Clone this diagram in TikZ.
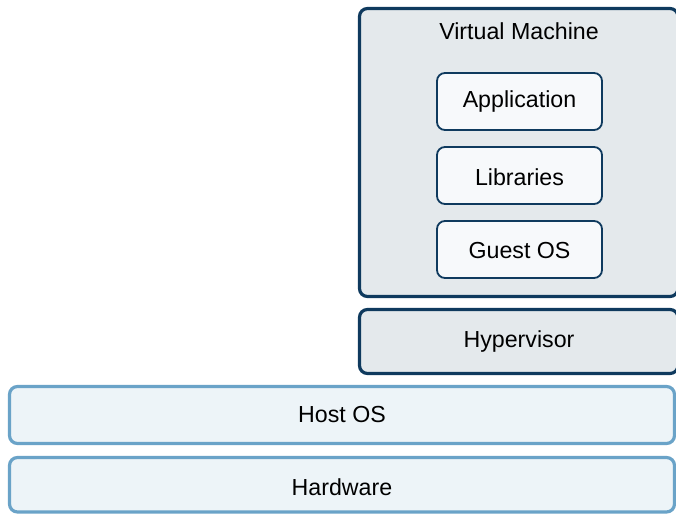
\documentclass[tikz,border=0pt]{standalone}
\usepackage{fontspec}
\setmainfont{Liberation Sans}
\definecolor{navy}{HTML}{0F3A5E}
\definecolor{vmfill}{HTML}{E4E9EC}
\definecolor{innerfill}{HTML}{F7F9FB}
\definecolor{hostline}{HTML}{6AA3C8}
\definecolor{hostfill}{HTML}{EDF4F8}
\tikzset{
  darkbox/.style={draw=navy, line width=3.2pt, fill=vmfill, rounded corners=8pt},
  innerbox/.style={draw=navy, line width=1.8pt, fill=innerfill, rounded corners=8pt},
  lightbox/.style={draw=hostline, line width=3.2pt, fill=hostfill, rounded corners=8pt},
  lbl/.style={font=\fontsize{23.2}{27}\selectfont, text=black}
}
\begin{document}
\begin{tikzpicture}[x=1pt, y=-1pt]
\useasboundingbox (0,0) rectangle (676,514);
\clip (0,0) rectangle (676,514);
% virtual machine frame
\draw[darkbox] (359.5,8.5) rectangle (678,296.5);
\node[lbl] (vm) at (519,31) {Virtual Machine};
% guest stack
\draw[innerbox] (437,73) rectangle (602,130);
\node[lbl] (app) at (519.5,101) {Application};
\draw[innerbox] (437,147) rectangle (602,204);
\node[lbl] (lib) at (519.5,177) {Libraries};
\draw[innerbox] (437,221) rectangle (602,278);
\node[lbl] (gos) at (519.5,251) {Guest OS};
% hypervisor
\draw[darkbox] (359.5,309.5) rectangle (678,373.5);
\node[lbl] (hyp) at (519,341) {Hypervisor};
% host layers
\draw[lightbox] (9.5,386.5) rectangle (674.5,443.5);
\node[lbl] (host) at (342,415) {Host OS};
\draw[lightbox] (9.5,457.5) rectangle (674.5,512);
\node[lbl] (hw) at (342,487) {Hardware};
\end{tikzpicture}
\end{document}
